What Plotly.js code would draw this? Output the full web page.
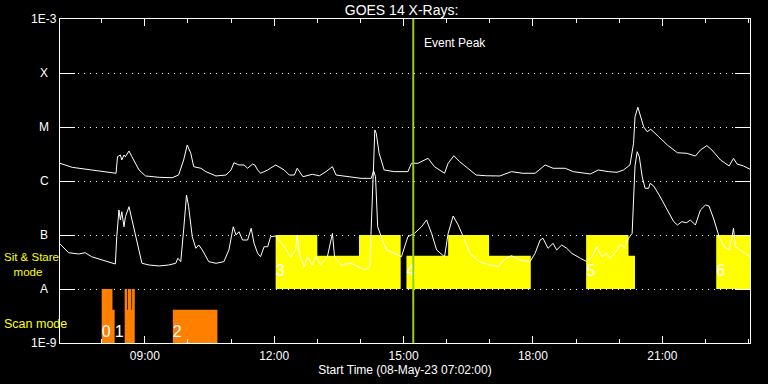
<!DOCTYPE html>
<html>
<head>
<meta charset="utf-8">
<script src="https://cdn.plot.ly/plotly-3.0.1.min.js"></script>
<style>html,body{margin:0;padding:0;background:#000;}#chart{width:768px;height:384px;}</style>
</head>
<body>
<div id="chart"></div>
<script>
// ---------- DATA ----------
const DAY = '2023-05-08 ';
const xStart = '07:02', xEnd = '23:02';

// GOES long channel (1-8 A), W/m^2
const longTimes = ['07:02','07:19','07:46','08:17','08:20','08:22','08:26','08:28','08:31','08:33','08:38','08:42','08:52','09:01','09:20','09:38','09:47','09:54','09:59','10:04','10:08','10:18','10:25','10:39','10:53','11:00','11:04','11:11','11:18','11:23','11:30','11:33','11:37','11:41','11:51','12:02','12:14','12:21','12:28','12:32','12:40','12:53','13:03','13:12','13:21','13:26','13:42','14:01','14:15','14:18','14:20','14:22','14:26','14:33','14:47','15:06','15:11','15:20','15:34','15:43','15:57','16:02','16:10','16:18','16:41','16:55','17:14','17:30','17:46','18:03','18:17','18:28','18:45','18:56','19:20','19:31','19:45','19:57','20:06','20:15','20:20','20:22','20:26','20:29','20:34','20:39','20:44','20:55','21:07','21:21','21:34','21:46','21:53','22:02','22:09','22:21','22:33','22:39','22:44','22:53','23:02'];
const longFlux = [2.13e-6,1.79e-6,1.60e-6,1.39e-6,1.39e-6,2.82e-6,3.03e-6,2.45e-6,3.03e-6,2.82e-6,3.59e-6,2.82e-6,1.60e-6,1.24e-6,1.17e-6,1.15e-6,1.29e-6,2.45e-6,4.64e-6,3.26e-6,1.84e-6,1.72e-6,1.49e-6,1.24e-6,1.29e-6,1.60e-6,2.18e-6,1.98e-6,1.98e-6,1.72e-6,2.06e-6,1.98e-6,1.60e-6,1.39e-6,1.60e-6,1.98e-6,1.60e-6,1.29e-6,1.29e-6,1.72e-6,1.20e-6,1.33e-6,1.25e-6,1.49e-6,1.84e-6,1.29e-6,1.20e-6,1.12e-6,1.12e-6,1.49e-6,8.8e-6,7.64e-6,3.26e-6,1.60e-6,1.49e-6,1.49e-6,2.13e-6,2.13e-6,2.63e-6,1.84e-6,1.39e-6,2.13e-6,2.94e-6,2.28e-6,1.29e-6,1.25e-6,1.24e-6,1.49e-6,1.39e-6,1.39e-6,1.98e-6,1.72e-6,1.72e-6,1.49e-6,1.35e-6,1.60e-6,1.49e-6,1.45e-6,1.60e-6,1.98e-6,4.99e-6,1.55e-5,2.32e-5,1.67e-5,1.01e-5,8.18e-6,9.06e-6,6.61e-6,4.64e-6,3.34e-6,3.26e-6,2.90e-6,3.75e-6,4.51e-6,3.75e-6,2.45e-6,1.90e-6,2.63e-6,2.06e-6,1.90e-6,1.65e-6];

// GOES short channel (0.5-4 A), W/m^2
const shortTimes = ['07:02','07:14','07:28','07:37','07:46','08:00','08:14','08:19','08:21','08:24','08:26','08:28','08:31','08:33','08:38','08:42','08:49','08:56','09:06','09:20','09:33','09:43','09:46','09:50','09:54','09:58','10:01','10:06','10:11','10:15','10:20','10:29','10:39','10:50','10:57','11:03','11:07','11:11','11:16','11:23','11:28','11:32','11:37','11:41','11:46','11:51','11:55','12:02','12:14','12:23','12:30','12:32','12:36','12:42','12:46','12:53','12:58','13:05','13:14','13:21','13:24','13:33','13:47','14:06','14:13','14:16','14:18','14:21','14:24','14:29','14:36','14:47','14:57','15:06','15:15','15:25','15:32','15:39','15:46','15:57','16:02','16:09','16:16','16:25','16:32','16:46','17:00','17:12','17:19','17:30','17:42','17:56','18:03','18:10','18:14','18:21','18:28','18:33','18:40','18:47','18:54','19:06','19:15','19:22','19:29','19:36','19:43','19:47','19:54','20:01','20:08','20:13','20:18','20:20','20:22','20:25','20:28','20:32','20:36','20:41','20:43','20:48','20:57','21:07','21:16','21:21','21:27','21:34','21:39','21:46','21:53','22:00','22:05','22:12','22:19','22:26','22:33','22:37','22:39','22:42','22:49','22:56','23:02'];
const shortFlux = [6.81e-8,4.70e-8,4.45e-8,4.70e-8,3.96e-8,3.44e-8,2.99e-8,2.90e-8,9.3e-8,2.90e-7,1.90e-7,2.70e-7,1.42e-7,2.18e-7,3.34e-7,1.90e-7,7.02e-8,2.99e-8,2.78e-8,2.67e-8,2.78e-8,2.99e-8,3.71e-8,3.21e-8,1.24e-7,5.51e-7,3.34e-7,9.3e-8,5.67e-8,6.53e-8,5.28e-8,3.21e-8,2.99e-8,3.21e-8,5.28e-8,1.42e-7,1.00e-7,1.15e-7,8.08e-8,8.08e-8,1.33e-7,7.02e-8,4.58e-8,3.96e-8,6.07e-8,6.07e-8,9.3e-8,9.58e-8,6.07e-8,3.96e-8,5.28e-8,1.00e-7,3.96e-8,2.59e-8,3.96e-8,2.78e-8,3.96e-8,2.78e-8,3.96e-8,1.07e-7,3.96e-8,2.78e-8,2.99e-8,2.25e-8,2.59e-8,2.90e-7,1.60e-6,1.20e-6,1.42e-7,9.3e-8,5.28e-8,4.58e-8,3.96e-8,9.3e-8,1.07e-7,1.42e-7,1.90e-7,1.07e-7,5.28e-8,3.96e-8,1.07e-7,2.25e-7,1.53e-7,8.08e-8,4.58e-8,3.21e-8,2.78e-8,2.59e-8,3.44e-8,4.14e-8,3.44e-8,3.21e-8,4.58e-8,8.08e-8,8.69e-8,5.67e-8,7.02e-8,5.28e-8,6.53e-8,5.67e-8,4.58e-8,3.71e-8,3.21e-8,3.96e-8,6.07e-8,3.96e-8,4.58e-8,3.71e-8,4.58e-8,6.53e-8,6.07e-8,8.69e-8,1.07e-7,4.45e-7,1.9e-6,3.49e-6,2.82e-6,1.20e-6,7.33e-7,7.33e-7,9.06e-7,8.08e-7,5.12e-7,2.90e-7,1.76e-7,1.53e-7,1.76e-7,1.69e-7,1.90e-7,1.53e-7,2.90e-7,3.59e-7,3.44e-7,1.90e-7,9.3e-8,6.07e-8,5.28e-8,9.3e-8,1.33e-7,6.07e-8,5.28e-8,4.58e-8,3.96e-8];

// Sit & Stare mode intervals (yellow), band 1E-8 .. top
const stareStart = ['12:02','13:00','13:58','15:04','16:02','16:59','19:14','20:13','22:15'];
const stareEnd   = ['13:00','13:58','14:56','16:02','16:59','17:57','20:13','20:22','23:14'];
const stareTop   = [1e-7,4.15e-8,1e-7,4.15e-8,1e-7,4.15e-8,1e-7,4.15e-8,1e-7];
const stareBase  = 1e-8;

// Scan mode intervals (orange), band 1E-9 .. top
const scanStart = ['08:00','08:00','08:32','08:32','08:36:20','08:42:20','09:39'];
const scanEnd   = ['08:18','08:15','08:46','08:35:20','08:41:20','08:46','10:41'];
const scanTop   = [4.15e-9,1e-8,4.15e-9,1e-8,1e-8,1e-8,4.15e-9];
const scanBase  = 1e-9;

// Block number labels
const blockLabels = ['0','1','2','3','4','5','6'];
const blockLabelTimes = ['08:00','08:18','09:39','12:02','15:04','19:14','22:15'];
const blockLabelFlux = [1.56e-9,1.56e-9,1.56e-9,2.07e-8,2.07e-8,2.07e-8,2.07e-8];

// Y axis classes
const yTickVals = [1e-9,1e-8,1e-7,1e-6,1e-5,1e-4,1e-3];
const yTickText = ['1E-9','A','B','C','M','X','1E-3'];

const eventPeak = '15:13:30';
const titleText = 'GOES 14 X-Rays:';
const xTitle = 'Start Time (08-May-23 07:02:00)';

// ---------- BUILD ----------
const T = t => DAY + t;
function bands(starts, ends, tops, base) {
  const x = [], y = [];
  for (let i = 0; i < starts.length; i++) {
    x.push(T(starts[i]), T(starts[i]), T(ends[i]), T(ends[i]), T(starts[i]), null);
    y.push(base, tops[i], tops[i], base, base, null);
  }
  return {x, y};
}
const FONT = 'Liberation Sans, Arial, sans-serif';
const stare = bands(stareStart, stareEnd, stareTop, stareBase);
const scan = bands(scanStart, scanEnd, scanTop, scanBase);

const traces = [
  {x: stare.x, y: stare.y, type: 'scatter', mode: 'lines', fill: 'toself',
   fillcolor: '#ffff00', line: {width: 0, color: '#ffff00'}, hoverinfo: 'skip'},
  {x: scan.x, y: scan.y, type: 'scatter', mode: 'lines', fill: 'toself',
   fillcolor: '#ff8000', line: {width: 0, color: '#ff8000'}, hoverinfo: 'skip'},
  {x: longTimes.map(T), y: longFlux, type: 'scatter', mode: 'lines',
   line: {color: '#ffffff', width: 1}},
  {x: shortTimes.map(T), y: shortFlux, type: 'scatter', mode: 'lines',
   line: {color: '#ffffff', width: 1}},
  {x: blockLabelTimes.map(T), y: blockLabelFlux, type: 'scatter', mode: 'text',
   text: blockLabels, textposition: 'middle right',
   textfont: {family: FONT, size: 16, color: '#ffffff'}, hoverinfo: 'skip'}
];

const annotations = yTickVals.map((v, i) => ({
  xref: 'paper', yref: 'y', x: -0.023, y: Math.log10(v), text: yTickText[i],
  showarrow: false, xanchor: 'center', yanchor: 'middle',
  font: {family: FONT, size: 12, color: '#ffffff'}
}));
annotations.push(
  {xref: 'x', yref: 'paper', x: T(eventPeak), y: 0.926, text: 'Event Peak', showarrow: false,
   xanchor: 'left', yanchor: 'middle', xshift: 9, font: {family: FONT, size: 12, color: '#ffffff'}},
  {xref: 'paper', yref: 'paper', x: -0.0841, y: 0.242, text: 'Sit & Stare<br>&nbsp;&nbsp;&nbsp;mode',
   showarrow: false, align: 'left', xanchor: 'left', yanchor: 'middle',
   font: {family: FONT, size: 11.5, color: '#ffff00'}},
  {xref: 'paper', yref: 'paper', x: -0.0845, y: 0.0586, text: 'Scan mode', showarrow: false,
   xanchor: 'left', yanchor: 'middle', font: {family: FONT, size: 12.5, color: '#ffff00'}}
);

const layout = {
  width: 768, height: 384,
  margin: {l: 60, r: 18, t: 19, b: 41, pad: 0},
  paper_bgcolor: '#000000', plot_bgcolor: '#000000',
  showlegend: false,
  font: {family: FONT, color: '#ffffff', size: 12},
  title: {text: titleText, font: {family: FONT, size: 14, color: '#ffffff'},
          xref: 'paper', x: 0.495, xanchor: 'center', yref: 'container', y: 0.974, yanchor: 'middle'},
  xaxis: {
    type: 'date', range: [T(xStart), T(xEnd)],
    tick0: DAY + '00:00', dtick: 3 * 3600000, tickformat: '%H:%M',
    ticks: 'inside', ticklen: 7, tickwidth: 1, tickcolor: '#ffffff',
    showline: true, linecolor: '#ffffff', linewidth: 1, mirror: 'ticks',
    showgrid: false, zeroline: false,
    minor: {dtick: 3600000, tick0: DAY + '00:00', ticks: 'inside', ticklen: 4, tickcolor: '#ffffff', showgrid: false},
    tickfont: {family: FONT, size: 12, color: '#ffffff'},
    ticklabelstandoff: 2,
    title: {text: xTitle, font: {family: FONT, size: 12, color: '#ffffff'}, standoff: 1}
  },
  yaxis: {
    type: 'log', range: [-9, -3],
    tickvals: yTickVals, showticklabels: false,
    ticks: 'inside', ticklen: 15, tickwidth: 1, tickcolor: '#ffffff',
    showline: true, linecolor: '#ffffff', linewidth: 1, mirror: 'ticks',
    showgrid: true, gridcolor: '#ffffff', gridwidth: 1, griddash: '1px,5px',
    zeroline: false
  },
  shapes: [
    {type: 'line', xref: 'x', yref: 'paper', x0: T(eventPeak), x1: T(eventPeak), y0: 0, y1: 1,
     line: {color: '#99cc22', width: 2}, layer: 'above'}
  ],
  annotations: annotations
};

Plotly.newPlot('chart', traces, layout, {staticPlot: true, displayModeBar: false});
</script>
</body>
</html>
